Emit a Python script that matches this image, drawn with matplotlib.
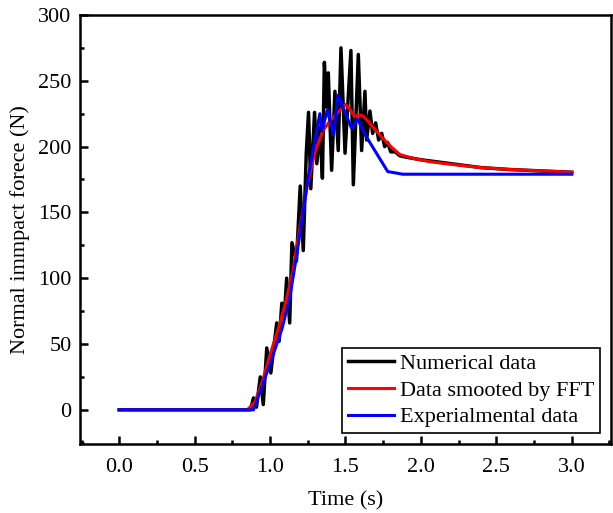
import numpy as np
import matplotlib
matplotlib.use("Agg")
import matplotlib.pyplot as plt
from matplotlib.ticker import MultipleLocator

plt.rcParams['font.family'] = ['Liberation Serif', 'DejaVu Serif']
plt.rcParams['font.size'] = 16

# Numerical data (black, noisy)
t_num = [0.0, 0.87, 0.89, 0.91, 0.935, 0.955, 0.978, 1.005, 1.044, 1.06, 1.078, 1.095,
         1.11, 1.13, 1.145, 1.175, 1.2, 1.22, 1.24, 1.255, 1.27, 1.295, 1.31, 1.33,
         1.347, 1.36, 1.375, 1.386, 1.408, 1.43, 1.452, 1.47, 1.497, 1.536, 1.552,
         1.585, 1.607, 1.629, 1.64, 1.662, 1.68, 1.70, 1.72, 1.74, 1.76, 1.78, 1.80,
         1.83, 1.86, 1.90, 1.95, 2.0, 2.2, 2.4, 2.6, 2.8, 3.0]
f_num = [0, 0, 9, 2, 25, 4, 47, 28, 66, 52, 81, 72,
         100, 66, 127, 113, 170, 121, 195, 226, 168, 226, 187, 215,
         176, 264, 230, 256, 182, 242, 197, 275, 195, 273, 171,
         270, 197, 242, 205, 227, 210, 218, 205, 210, 200, 203, 196,
         196, 193, 192, 191, 190, 187, 184, 182.5, 181.5, 180.5]

# Data smoothed by FFT (red)
t_fft = [0.0, 0.85, 0.9, 0.95, 1.0, 1.05, 1.1, 1.15, 1.2, 1.25, 1.3, 1.35, 1.4, 1.45,
         1.5, 1.53, 1.56, 1.6, 1.62, 1.68, 1.75, 1.8, 1.86, 1.95, 2.06, 2.2, 2.4,
         2.6, 2.8, 3.0]
f_fft = [0, 0, 6, 22, 42, 60, 80, 105, 140, 172, 197, 212, 220, 226,
         232, 228, 223, 224, 223, 215, 206, 200, 194, 191, 188.5, 186.5, 184,
         182.5, 181.5, 180.5]

# Experimental data (blue)
t_exp = [0.0, 0.89, 1.0, 1.08, 1.13, 1.18, 1.25, 1.33, 1.345, 1.38, 1.42, 1.45,
         1.54, 1.58, 1.63, 1.78, 1.88, 3.0]
f_exp = [0, 0, 35, 62, 85, 120, 175, 225, 212, 228, 209, 239,
         214, 221, 209, 181, 179, 179]

fig = plt.figure(figsize=(6.13, 5.13), dpi=100)
ax = fig.add_axes([0.1305, 0.1345, 0.8662, 0.8363])

ax.plot(t_num, f_num, color='black', lw=2.5, label='Numerical data')
ax.plot(t_fft, f_fft, color='red', lw=2.2, label='Data smooted by FFT')
ax.plot(t_exp, f_exp, color='blue', lw=2.2, label='Experialmental data')

ax.set_xlim(-0.26, 3.26)
ax.set_ylim(-26, 300)
ax.xaxis.set_major_locator(MultipleLocator(0.5))
ax.xaxis.set_minor_locator(MultipleLocator(0.25))
ax.yaxis.set_major_locator(MultipleLocator(50))
ax.yaxis.set_minor_locator(MultipleLocator(25))
ax.set_xticks(np.arange(0, 3.01, 0.5))
ax.tick_params(which='major', direction='in', length=6, width=1.8, labelsize=16)
ax.tick_params(which='minor', direction='in', length=3, width=1.8)
ax.tick_params(axis='x', pad=10)
ax.tick_params(axis='y', pad=6)
for s in ax.spines.values():
    s.set_linewidth(1.8)

ax.set_xlabel('Time (s)', fontsize=16, labelpad=10)
ax.set_ylabel('Normal immpact forece (N)', fontsize=16, labelpad=6)

leg = ax.legend(loc='lower right', frameon=True, fancybox=False, framealpha=1,
                edgecolor='black', fontsize=16, handlelength=2.1,
                handletextpad=0.25, labelspacing=0.28, borderpad=0.25,
                borderaxespad=0.5)
leg.get_frame().set_linewidth(1.2)

fig.savefig('out.png', dpi=100)
